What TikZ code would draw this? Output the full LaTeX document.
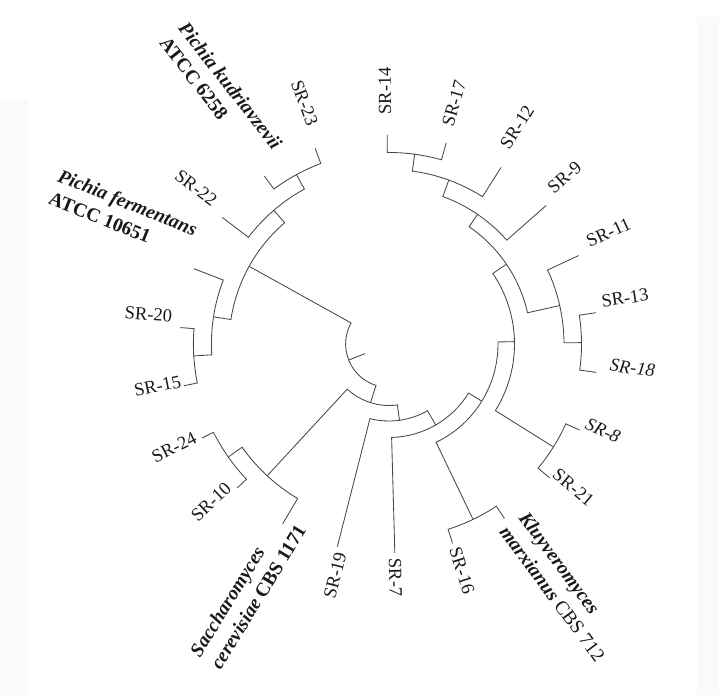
\documentclass[tikz,border=0pt]{standalone}
\usepackage{fontspec}
\setmainfont{Liberation Serif}
\newcommand\tbranch[4]{% name, angle, radius, parent radius
  \coordinate (#1) at (#2:#3pt);
  \coordinate (#1-b) at (#2:#4pt);
  \draw[tree] (#1-b) -- (#1);}
\newcommand\tarc[3]{% radius, angle from, angle to
  \draw[tree] (#2:#1pt) arc[start angle=#2, end angle=#3, radius=#1pt];}
\begin{document}
\begin{tikzpicture}[x=1pt,y=1pt,
  tree/.style={draw=black!72, line width=0.85pt, line cap=round, line join=round},
  lab/.style={inner sep=0pt, text=black!90, font=\fontsize{18.5}{22}\selectfont},
  sp/.style={inner sep=0pt, align=left, text=black!90, font=\fontsize{19.5}{24}\selectfont\bfseries}]
\useasboundingbox (0,0) rectangle (719,695);
\fill[black!2] (697,0) rectangle (719,678);
\fill[black!2] (0,0) rectangle (28,595);

\begin{scope}[shift={(389pt,351pt)}]
% arcs of the internal nodes
\tarc{43.4}{150.96}{252.54}
\tarc{160}{130.725}{171.2}
\tarc{176.5}{118.65}{142.8}
\tarc{193}{110.7}{126.6}
\tarc{177.6}{158.9}{183.5}
\tarc{195.6}{175.5}{191.5}
\tarc{61.5}{227.25}{277.835}
\tarc{179.5}{215.1}{239.4}
\tarc{196.5}{206.7}{223.5}
\tarc{77}{255.7}{299.97}
\tarc{93.5}{271.6}{328.335}
\tarc{109}{295.6}{361.07}
\tarc{194.5}{287.7}{303.5}
\tarc{125.5}{327.95}{394.19}
\tarc{194}{320.2}{335.7}
\tarc{142}{372.7}{415.675}
\tarc{175}{360.4}{385}
\tarc{192.5}{352.2}{368.6}
\tarc{157}{401.4}{429.95}
\tarc{174.5}{417.6}{442.3}
\tarc{191.5}{434.1}{450.5}
% radial branches
\tbranch{root}{201.75}{43.4}{26}
\tbranch{Nm}{150.96}{160}{43.4}
\tbranch{Np}{252.54}{61.5}{43.4}
\tbranch{Nl}{130.725}{176.5}{160}
\tbranch{Nn}{171.2}{177.6}{160}
\tbranch{Nk}{118.65}{193}{176.5}
\tbranch{tSR22}{142.8}{209}{176.5}
\tbranch{tSR23}{110.7}{209}{193}
\tbranch{tPK}{126.6}{209}{193}
\tbranch{tPF}{158.9}{209}{177.6}
\tbranch{No}{183.5}{195.6}{177.6}
\tbranch{tSR20}{175.5}{209}{195.6}
\tbranch{tSR15}{191.5}{209}{195.6}
\tbranch{Nr}{227.25}{179.5}{61.5}
\tbranch{Nq}{277.835}{77}{61.5}
\tbranch{Ns}{215.1}{196.5}{179.5}
\tbranch{tSC}{239.4}{209}{179.5}
\tbranch{tSR24}{206.7}{209}{196.5}
\tbranch{tSR10}{223.5}{209}{196.5}
\tbranch{tSR19}{255.7}{209}{77}
\tbranch{Nt}{299.97}{93.5}{77}
\tbranch{tSR7}{271.6}{209}{93.5}
\tbranch{Na}{328.335}{109}{93.5}
\tbranch{Nj}{295.6}{194.5}{109}
\tbranch{Nb}{361.07}{125.5}{109}
\tbranch{tSR16}{287.7}{209}{194.5}
\tbranch{tKM}{303.5}{209}{194.5}
\tbranch{Ni}{327.95}{194}{125.5}
\tbranch{Nc}{394.19}{142}{125.5}
\tbranch{tSR21}{320.2}{209}{194}
\tbranch{tSR8}{335.7}{209}{194}
\tbranch{Ng}{372.7}{175}{142}
\tbranch{Nd}{415.675}{157}{142}
\tbranch{tSR11}{385}{209}{175}
\tbranch{Nh}{360.4}{192.5}{175}
\tbranch{tSR18}{352.2}{209}{192.5}
\tbranch{tSR13}{368.6}{209}{192.5}
\tbranch{tSR9}{401.4}{209}{157}
\tbranch{Ne}{429.95}{174.5}{157}
\tbranch{tSR12}{417.6}{209}{174.5}
\tbranch{Nf}{442.3}{191.5}{174.5}
\tbranch{tSR17}{434.1}{209}{191.5}
\tbranch{tSR14}{450.5}{209}{191.5}
\end{scope}

% leaf labels
\node[lab, rotate=90.5]  (lSR14) at (385,604) {SR-14};
\node[lab, rotate=74.1]  (lSR17) at (454,591.5) {SR-17};
\node[lab, rotate=57.6]  (lSR12) at (517,568) {SR-12};
\node[lab, rotate=41.4]  (lSR9)  at (564.5,518) {SR-9};
\node[lab, rotate=25]    (lSR11) at (608.5,462.5) {SR-11};
\node[lab, rotate=8.6]   (lSR13) at (625,397) {SR-13};
\node[lab, rotate=-7.8]  (lSR18) at (632.5,327) {\itshape SR-18};
\node[lab, rotate=-24.3] (lSR8)  at (603,264.5) {\itshape SR-8};
\node[lab, rotate=-39.8] (lSR21) at (573.5,207.5) {SR-21};
\node[lab, rotate=-72.3] (lSR16) at (462,124.5) {SR-16};
\node[lab, rotate=-88.4] (lSR7)  at (395.5,117.5) {SR-7};
\node[lab, rotate=75.7]  (lSR19) at (335,119.5) {SR-19};
\node[lab, rotate=43.5]  (lSR10) at (211,193) {SR-10};
\node[lab, rotate=26.7]  (lSR24) at (174,247.5) {SR-24};
\node[lab, rotate=11.5]  (lSR15) at (157.5,309) {SR-15};
\node[lab, rotate=-4.5]  (lSR20) at (148.5,380.5) {SR-20};
\node[lab, rotate=-37.2] (lSR22) at (196,507) {SR-22};
\node[lab, rotate=-69.3] (lSR23) at (304.5,592) {SR-23};

% reference strain labels
\node[sp, rotate=-52]   (lPK) at (221,601.9) {\textit{Pichia kudriavzevii}\\ATCC 6258};
\node[sp, rotate=-22]   (lPF) at (123.3,481.3) {\textit{Pichia fermentans}\\ATCC 10651};
\node[sp, rotate=-53.5] (lKM) at (562.2,108.3) {\textit{Kluyveromyces}\\\textit{marxianus} {\mdseries CBS 712}};
\node[sp, rotate=58.5]  (lSC) at (247.8,104.25) {\textit{Saccharomyces}\\\textit{cerevisiae} CBS 1171};
\end{tikzpicture}
\end{document}
